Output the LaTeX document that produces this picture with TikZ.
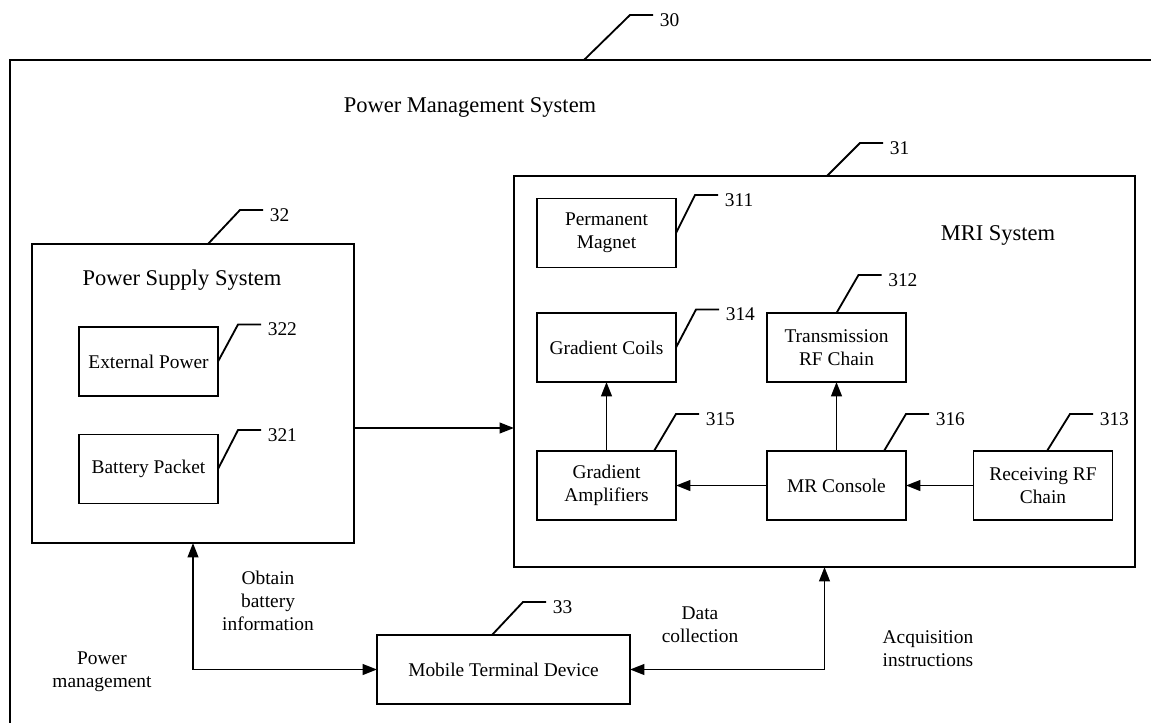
\documentclass[tikz,border=0pt]{standalone}
\usepackage{fontspec}
\setmainfont{Liberation Serif}
\usetikzlibrary{arrows.meta,calc}
\begin{document}
\begin{tikzpicture}[x=0.025cm, y=-0.025cm, line width=1.3pt,
    >={Triangle[length=0.36cm,width=0.27cm]},
    every node/.style={font=\fontsize{13.8}{16.3}\selectfont, inner sep=0pt, outer sep=0pt},
    unit/.style={draw, align=center, minimum width=3.475cm, minimum height=1.725cm},
    title/.style={font=\fontsize{16}{19}\selectfont},
    txt/.style={align=center},
    num/.style={anchor=west, xshift=0.17cm, yshift=-0.12cm}]
\useasboundingbox (0,0) rectangle (1151,723);

% outer frame (30)
\draw (1151,60) -- (10,60) -- (10,723);
\coordinate (top) at (584,60);
\node[title] (pms) at (470,107) {Power Management System};

% power supply system
\node[draw, minimum width=8.05cm, minimum height=7.475cm] (pss) at (193,393.5) {};
\node[title] (psst) at (182,280) {Power Supply System};
\node[unit] (ext) at (148.5,361.5) {External Power};
\node[unit] (bat) at (148.5,469) {Battery Packet};

% MRI system
\node[draw, minimum width=15.525cm, minimum height=9.775cm] (mri) at (824.5,371.5) {};
\node[title] (mrit) at (998,235) {MRI System};
\node[unit] (mag) at (606.5,233) {Permanent\\Magnet};
\node[unit] (coils) at (606.5,347.5) {Gradient Coils};
\node[unit] (trans) at (836.5,347.5) {Transmission\\RF Chain};
\node[unit] (amp) at (606.5,485.5) {Gradient\\Amplifiers};
\node[unit] (cons) at (836.5,485.5) {MR Console};
\node[unit] (recv) at (1043,485.5) {Receiving RF\\Chain};

% mobile terminal
\node[draw, minimum width=6.325cm, minimum height=1.725cm] (mob) at (503.5,669.5) {Mobile Terminal Device};

% reference numbers
\foreach \s/\xs/\dx/\dy/\t in {top/0/46/45/30, pss.north/15/32/34/32,
    ext.east/0/20/37/322, bat.east/0/20/39/321, mri.north/2.5/33/33/31,
    mag.east/0/19/38/311, coils.east/0/20/38/314, trans.north/0/22/38/312,
    amp.north/47.5/22/37/315, cons.north/47.5/22/37/316,
    recv.north/4/23/37/313, mob.north/-11.5/31/33/33}
{
    \draw ([xshift=\xs*0.025cm]\s) -- ++(\dx,-\dy) -- ++(23,0) node[num]{\t};
}

% connections
\draw[->] ($(pss.east)+(0,34.5)$) coordinate (pout) -- (pout -| mri.west);
\draw[->] (amp) -- (coils);
\draw[->] (cons) -- (trans);
\draw[->] (cons) -- (amp);
\draw[->] (recv) -- (cons);
\draw[<->] (pss.south) |- (mob.west);
\draw[<->] (mob.east) -| (mri.south);

% labels
\node[txt] (obt) at (268,601) {Obtain\\battery\\information};
\node[txt] (pm) at (102,671.5) {Power\\management};
\node[txt] (dc) at (700,624.5) {Data\\collection};
\node[txt] (acq) at (928,648.5) {Acquisition\\instructions};
\end{tikzpicture}
\end{document}
